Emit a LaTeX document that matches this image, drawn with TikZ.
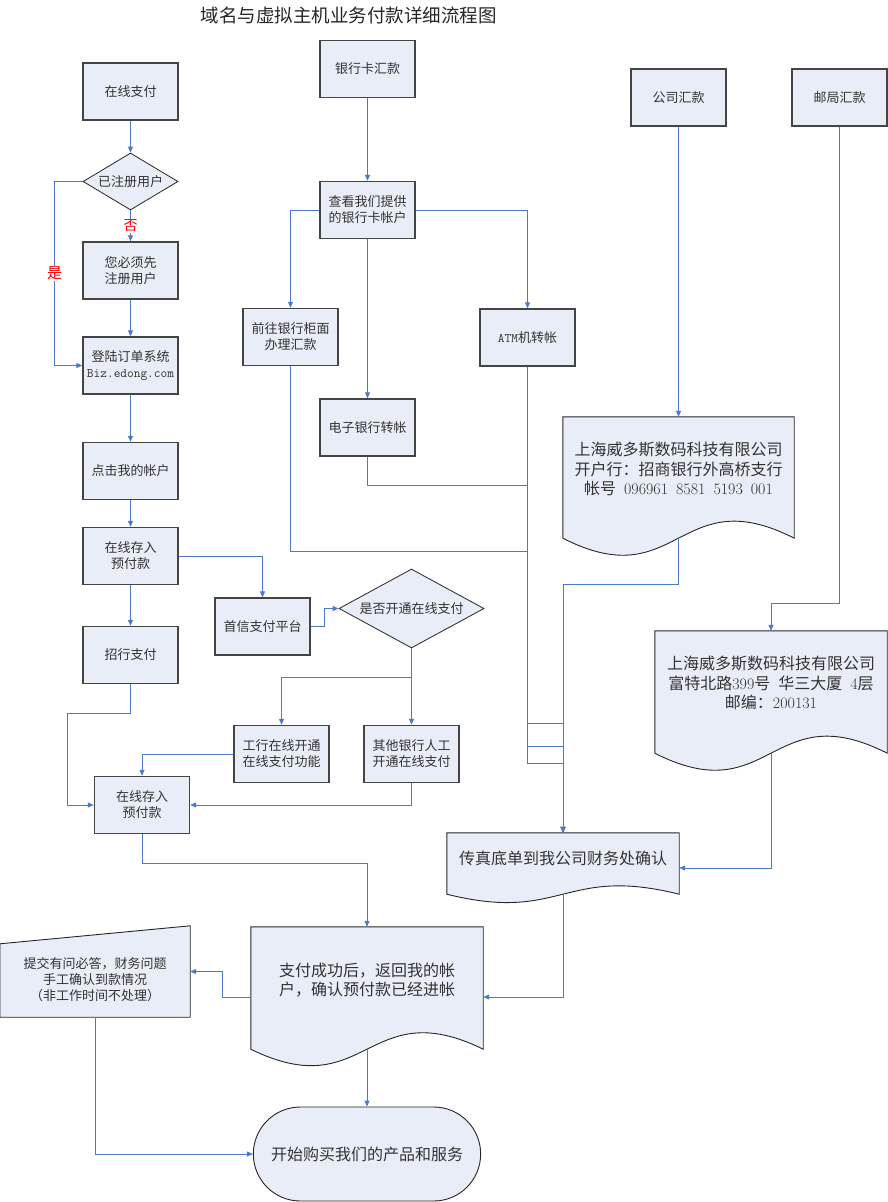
\documentclass[tikz,border=0pt]{standalone}
\usepackage{fontspec}
\newfontfamily\cjk{Noto Sans CJK SC}
\usepackage{tikz}
\usetikzlibrary{arrows.meta,shapes.geometric,shapes.misc}

\definecolor{boxfill}{RGB}{233,237,247}
\definecolor{boxedge}{RGB}{68,68,68}
\definecolor{linkblue}{RGB}{74,122,201}
\definecolor{textgray}{RGB}{51,51,51}

\tikzset{
  procbox/.style={draw=boxedge, line width=1.4pt, fill=boxfill, minimum width=95pt,
    minimum height=57pt, inner sep=0pt, align=center, text=textgray,
    font=\cjk\fontsize{13}{16}\selectfont},
  decision/.style={diamond, draw=black!85, line width=0.8pt, fill=boxfill, inner sep=0pt,
    align=center, text=textgray, font=\cjk\fontsize{13}{16}\selectfont},
  docnode/.style={inner sep=0pt, minimum width=232pt},
  docedge/.style={draw=black!85, line width=0.9pt, fill=boxfill},
  doctext/.style={align=center, text=textgray, font=\cjk\fontsize{16}{19.5}\selectfont},
  flow/.style={draw=linkblue, line width=1pt, -{Triangle[length=6pt,width=5pt]}},
  yesno/.style={text=red, fill=white, inner sep=1pt, font=\cjk\fontsize{14}{14}\selectfont},
}

% document shape with a wavy bottom
\newcommand{\wavedoc}[2]{%
  \draw[docedge] (#1.north west) -- (#1.north east) -- (#1.south east)
    .. controls ([yshift=#2]#1.south) and ([yshift=-#2]#1.south) .. (#1.south west) -- cycle;}

\begin{document}
\begin{tikzpicture}[x=1pt,y=-1pt]
    \useasboundingbox (0,0) rectangle (887,1202);
    % Title
    \node[font=\cjk\fontsize{18.5}{20}\selectfont, text=black!85] (title) at (348.5,15) {域名与虚拟主机业务付款详细流程图};
    % Online payment column
    \node[procbox] (online) at (130.5,91.5) {在线支付};
    \node[decision, shape aspect=1.67, minimum width=95pt, minimum height=57pt] (registered) at (130.5,181.5) {已注册用户};
    \node[procbox] (mustreg) at (130.5,270.5) {您必须先\\注册用户};
    \node[procbox] (login) at (130.5,365.5) {登陆订单系统\\{\ttfamily Biz.edong.com}};
    \node[procbox] (myacct) at (130.5,471) {点击我的帐户};
    \node[procbox] (deposit) at (130.5,556) {在线存入\\预付款};
    \node[procbox] (cmb) at (130.5,655) {招行支付};
    \node[procbox] (shouxin) at (262.5,626.5) {首信支付平台};
    \node[decision, shape aspect=1.84, minimum width=145pt, minimum height=79pt] (opened) at (411.5,608.5) {是否开通在线支付};
    \node[procbox] (icbc) at (281.5,754) {工行在线开通\\在线支付功能};
    \node[procbox] (otherbank) at (411.5,754) {其他银行人工\\开通在线支付};
    \node[procbox] (deposit2) at (142,805) {在线存入\\预付款};
    % Bank card column
    \node[procbox] (bankcard) at (367.5,69) {银行卡汇款};
    \node[procbox] (viewacct) at (367.5,210) {查看我们提供\\的银行卡帐户};
    \node[procbox] (counter) at (290.5,337) {前往银行柜面\\办理汇款};
    \node[procbox] (ebank) at (367.5,427.5) {电子银行转帐};
    \node[procbox] (atm) at (527.5,337.5) {{\ttfamily ATM}机转帐};
    % Company and post office
    \node[procbox] (corp) at (678.5,97.5) {公司汇款};
    \node[procbox] (post) at (839.5,97.5) {邮局汇款};
    \node[docnode, minimum width=231pt, minimum height=121pt] (bankinfo) at (678.5,477.5) {};
    \wavedoc{bankinfo}{59pt}
    \node[doctext] (bankinfo-text) at ([yshift=8.5pt]bankinfo.center) {上海威多斯数码科技有限公司\\开户行：招商银行外高桥支行\\帐号\enspace{\rmfamily 096961\enspace 8581\enspace 5193\enspace 001}};
    \node[docnode, minimum height=122pt] (postinfo) at (771,692) {};
    \wavedoc{postinfo}{59pt}
    \node[doctext] (postinfo-text) at ([yshift=9pt]postinfo.center) {上海威多斯数码科技有限公司\\富特北路{\rmfamily 399}号\enspace 华三大厦\enspace{\rmfamily 4}层\\邮编：{\rmfamily 200131}};
    % Confirmation
    \node[docnode, minimum height=61pt] (fax) at (563,863.5) {};
    \wavedoc{fax}{29pt}
    \node[doctext] (fax-text) at ([yshift=5.5pt]fax.center) {传真底单到我公司财务处确认};
    \node[docnode, minimum height=122pt] (paydoc) at (367,988) {};
    \wavedoc{paydoc}{57pt}
    \node[doctext] (paydoc-text) at ([yshift=8pt]paydoc.center) {支付成功后，返回我的帐\\户，确认预付款已经进帐};
    \node[inner sep=0pt, minimum width=190pt, minimum height=91pt] (manual) at (95,971.5) {};
    \draw[docedge] ([yshift=-18pt]manual.north west) -- (manual.north east) -- (manual.south east) -- (manual.south west) -- cycle;
    \node[align=center, text=textgray, font=\cjk\fontsize{13}{16}\selectfont] (manual-text) at ([yshift=-8.5pt]manual.center) {提交有问必答，财务问题\\手工确认到款情况\\（非工作时间不处理）};
    \node[rounded rectangle, draw=black!85, line width=0.9pt, fill=boxfill, minimum width=234pt, minimum height=94pt, text=textgray, font=\cjk\fontsize{16}{19.5}\selectfont] (start) at (367,1154) {开始购买我们的产品和服务};
    % Connectors, online payment
    \draw[flow] (online.south) -- (registered.north);
    \draw[flow] (registered.south) -- node[yesno] {否} (mustreg.north);
    \draw[flow] (registered.west) -- ++(-28,0) |- node[pos=0.25, yesno, font=\cjk\fontsize{15}{15}\selectfont] {是} (login.west);
    \draw[flow] (mustreg.south) -- (login.north);
    \draw[flow] (login.south) -- (myacct.north);
    \draw[flow] (myacct.south) -- (deposit.north);
    \draw[flow] (deposit.south) -- (cmb.north);
    \draw[flow] (deposit.east) -| (shouxin.north);
    \draw[flow] (shouxin.east) -- ++(14,0) |- (opened.west);
    \draw[flow] (opened.south) -- (otherbank.north);
    \draw[flow] (opened.south) -- ++(0,29) -| (icbc.north);
    \draw[flow] (cmb.south) -- ++(0,29) -- ++(-63.5,0) |- (deposit2.west);
    \draw[flow] (icbc.west) -| (deposit2.north);
    \draw[flow] (otherbank.south) |- (deposit2.east);
    % Connectors, bank card
    \draw[flow] (bankcard.south) -- (viewacct.north);
    \draw[flow] (viewacct.west) -| (counter.north);
    \draw[flow] (viewacct.east) -| (atm.north);
    \draw[flow] (viewacct.south) -- (ebank.north);
    \draw[flow] (atm.south) -- ++(0,357) -| (fax.north);
    \draw[flow] (ebank.south) -- ++(0,28.5) -- ++(160,0) -- ++(0,261.5) -| (fax.north);
    \draw[flow] (counter.south) -- ++(0,185) -- ++(237,0) -- ++(0,212) -| (fax.north);
    % Connectors, company and post office
    \draw[flow] (corp.south) -- (bankinfo.north);
    \draw[flow] (bankinfo.south) -- ++(0,46) -| (fax.north);
    \draw[flow] (post.south) -- ++(0,477) -| (postinfo.north);
    \draw[flow] (postinfo.south) |- ([yshift=-4.5pt]fax.east);
    % Connectors, bottom
    \draw[flow] (fax.south) |- ([yshift=-9pt]paydoc.east);
    \draw[flow] (deposit2.south) -- ++(0,29) -| (paydoc.north);
    \draw[flow] ([yshift=-9pt]paydoc.west) -- ++(-28,0) |- (manual.east);
    \draw[flow] (paydoc.south) -- (start.north);
    \draw[flow] (manual.south) |- (start.west);
\end{tikzpicture}
\end{document}
